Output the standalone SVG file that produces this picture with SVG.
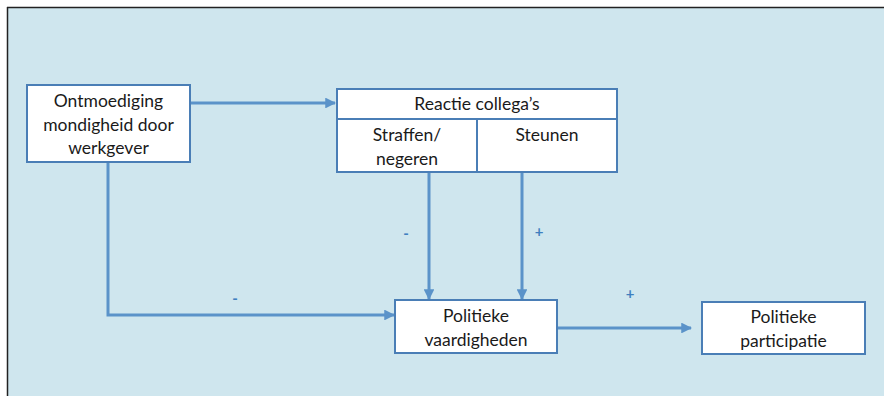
<svg xmlns="http://www.w3.org/2000/svg" width="884" height="396" viewBox="0 0 884 396">
<style>
.box{fill:#ffffff;stroke:#4a7eb6;stroke-width:2}
.ln{fill:none;stroke:#5b93c9;stroke-width:3}
.t{font-family:Lato,"Open Sans","Liberation Sans",sans-serif;font-size:17.5px;fill:#1a1a1a;text-anchor:middle}
.s{font-family:Lato,"Liberation Sans",sans-serif;font-size:15px;font-weight:bold;fill:#3f7fbf;text-anchor:middle}
</style>
<defs>
<marker id="ah" viewBox="0 0 10 10" refX="9" refY="5" markerWidth="3.6" markerHeight="3.6" orient="auto" markerUnits="strokeWidth">
<path d="M0,0 L10,5 L0,10 Z" fill="#5b93c9"/>
</marker>
</defs>
<rect x="0" y="0" width="884" height="396" fill="#ffffff"/>
<rect x="7" y="7" width="877" height="389" fill="#cfe6ee"/>
<line x1="7" y1="7.5" x2="884" y2="7.5" stroke="#222" stroke-width="1.5"/>
<line x1="7.5" y1="7" x2="7.5" y2="396" stroke="#222" stroke-width="1.5"/>
<g id="connectors">
<path class="ln" d="M190,103 L335,103" marker-end="url(#ah)"/>
<path class="ln" d="M108,162 L108,315 L394,315" marker-end="url(#ah)"/>
<path class="ln" d="M429,172 L429,299" marker-end="url(#ah)"/>
<path class="ln" d="M522,172 L522,299" marker-end="url(#ah)"/>
<path class="ln" d="M557,328 L691,328" marker-end="url(#ah)"/>
<text class="s" x="406" y="239">-</text>
<text class="s" x="539" y="237">+</text>
<text class="s" x="235" y="304">-</text>
<text class="s" x="630" y="299">+</text>
</g>
<g id="ontmoediging">
<rect class="box" x="27" y="85" width="163" height="77"/>
<text class="t" x="108.5" y="107">Ontmoediging</text>
<text class="t" x="108.5" y="131">mondigheid door</text>
<text class="t" x="108.5" y="154">werkgever</text>
</g>
<g id="reactie">
<rect class="box" x="337" y="89" width="280" height="83"/>
<line x1="337" y1="119" x2="617" y2="119" stroke="#4a7eb6" stroke-width="2"/>
<line x1="477" y1="119" x2="477" y2="172" stroke="#4a7eb6" stroke-width="2"/>
<text class="t" x="477" y="110">Reactie collega’s</text>
<text class="t" x="407" y="141">Straffen/</text>
<text class="t" x="407" y="165">negeren</text>
<text class="t" x="547" y="141">Steunen</text>
</g>
<g id="vaardigheden">
<rect class="box" x="395" y="300" width="162" height="53"/>
<text class="t" x="476" y="322">Politieke</text>
<text class="t" x="476" y="346">vaardigheden</text>
</g>
<g id="participatie">
<rect class="box" x="702" y="302" width="163" height="52"/>
<text class="t" x="783.5" y="323">Politieke</text>
<text class="t" x="783.5" y="347">participatie</text>
</g>
</svg>
